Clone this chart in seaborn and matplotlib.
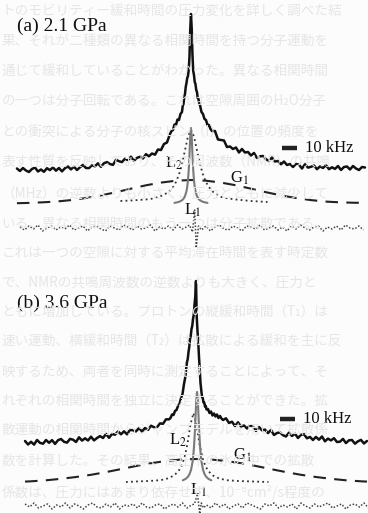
import numpy as np
import matplotlib
matplotlib.use("Agg")
import matplotlib.pyplot as plt
import seaborn as sns

sns.set_theme(style="white")
plt.rcParams["font.family"] = ["Liberation Serif", "DejaVu Serif"]
plt.rcParams["mathtext.fontset"] = "stix"

# ---------------- data (frequency in kHz, intensity in arb. units) ----------------
# panel (a) 2.1 GPa : observed spectrum
spec_a_f = np.concatenate([np.arange(-116, -13, 2), np.arange(-13, -5, 1),
                           np.arange(-5.5, 5.6, 0.5), np.arange(6, 14, 1),
                           np.arange(14, 117, 2)])
spec_a_left = [6.5, 4, 7, 4.5, 3, 6, 7.5, 3.5, 5.5, 3.2, 6.8, 4.9, 7.6, 4.3, 7, 3.6, 6.8, 8.5,
               5.6, 8.3, 5, 7.7, 10.1, 7, 6.9, 9.8, 8.7, 11.7, 8.2, 11.8, 12.9, 11, 10.1, 15.2,
               13.8, 12.9, 16.3, 14.8, 18.3, 14.2, 17.1, 18.2, 16.5, 20.8, 18.7, 21.5, 20.3,
               25.5, 25, 31, 32.5, 41]
spec_a_mid = [44, 45, 50.5, 50, 55.5, 55, 61, 63,
              69, 71, 78, 81, 88, 92, 97, 99, 105, 118, 145, 161, 146, 120, 104, 100, 93,
              91, 85, 83, 77, 76, 71,
              70, 63, 61, 56, 55, 50, 50, 46]
spec_a_right = [44, 44, 35.5, 35, 34.5, 28, 28.5, 26, 27.5, 22.5, 26, 22.5, 23, 19.5, 22, 17,
                18.7, 19, 15.8, 14, 17.5, 13.5, 14, 10.7, 13.5, 10, 11, 8, 11.1, 10.2, 6.5,
                10.7, 7.4, 8.2, 9.5, 5.8, 8.6, 7, 9.9, 5.8, 7.7, 6.1, 9, 5, 8, 8.5, 5.5, 9,
                6.5, 5, 8, 7.5]
spec_a = spec_a_left + spec_a_mid + spec_a_right

# panel (a) fitted components
l1_a_f = [-11, -8, -6, -5, -4, -3, -2.5, -2, -1.5, -1, -0.5, 0, 0.5, 1, 1.5, 2, 2.5, 3, 4, 5, 6, 8, 11]
l1_a = [1.1, 2.1, 3.7, 5.2, 7.8, 12.8, 17.2, 23.8, 34, 49, 67, 76, 67, 49, 34, 23.8, 17.2,
        12.8, 7.8, 5.2, 3.7, 2.1, 1.1]
l2_a_f = [-47, -40, -30, -25, -20, -15, -12, -10, -8, -6, -4, -2, 0, 2, 4, 6, 8, 10, 12, 15,
          20, 25, 30, 40, 51]
l2_a = [3, 3.5, 4.5, 5.5, 8, 11.7, 16.8, 22, 29.4, 40, 53.7, 67.6, 74, 67.6, 53.7, 40, 29.4,
        22, 16.8, 11.7, 7.1, 5.5, 4.5, 3, 2]
g1_a_f = [-116, -110, -100, -90, -80, -70, -60, -50, -40, -30, -20, -10, 0, 10, 20, 30, 40,
          50, 60, 70, 80, 90, 100, 110, 116]
g1_a = [0.8, 1, 1.6, 2.4, 3.9, 6.0, 8.6, 11.8, 15.3, 18.7, 21.4, 23.3, 24, 23.3, 21.4, 18.7,
        15.3, 11.8, 8.6, 6.0, 3.9, 2.4, 1.6, 1.2, 1.5]

# panel (a) residual
res_a_f = np.concatenate([np.arange(-114, -2, 3), [-1, 1, 2.5, 3.5, 5], np.arange(7, 117, 3)])
res_a = [1, -2, 2, -1, 3, -3, 0, 2, -2, 1, -1, 3, -2, 0, 2, -3, 1, 2, -1, -3,
         2, 0, -2, 3, 1, -2, 2, -1, 0, 3, -3, 1, -1, 2, -2, 3, -1, 1,
         3, -4, 18, -20, 2,
         -2, 2, -3, 1, 3, -1, -2, 2, 0, -3, 2, 1, -1, 3, -2, 0, 2, -2, 1, -3,
         2, -1, 3, 0, -2, 1, 2, -3, 1, -1, 2, -2, 3, 0, -1, 2, -2]

# panel (b) 3.6 GPa : observed spectrum
spec_b_f = np.concatenate([np.arange(-114, -17, 2), np.arange(-17, -6, 1),
                           np.arange(-6.5, 6.6, 0.5), np.arange(7, 18, 1),
                           np.arange(18, 115, 2)])
spec_b_left = [7, 3.5, 6.2, 3.4, 8, 5.1, 4.3, 8, 5.2, 7.9, 4.1, 7.8, 9, 6.2, 5.4, 9.1, 8.3, 6,
               10.7, 7.4, 9.7, 7.5, 11.3, 7.6, 10, 11.9, 10, 14.1, 10.2, 14, 13.3, 16.6, 13.7,
               16.7, 13.7, 18.2, 17.7, 16.6, 20, 16.5, 20, 18.1, 22.3, 20.7, 20.8, 24.6, 24.2,
               28.7, 28.6]
spec_b_mid = [30, 33.5, 33, 37, 38, 42, 44, 50, 54, 64, 72,
              80, 86, 89, 96, 101, 109, 112, 119, 122, 129, 133, 143, 151, 167, 131, 117, 106,
              91, 79, 65, 58, 51, 50, 45.5, 45.5, 41.5, 42,
              38.5, 39, 35, 36.5, 32.5, 34.5, 31.5, 33.5, 30, 32, 29.5]
spec_b_right = [28, 29.7, 25, 26.3, 22, 25.7, 21.5, 22.5, 19.5, 22.5, 21.3, 17.1, 21, 17.7,
                18.4, 14.9, 18.1, 13, 15, 15.6, 12.8, 11.5, 15.3, 12, 14.3, 10, 13.2, 13.8,
                9.7, 11.1, 8, 11.1, 8.3, 11.5, 6.7, 9.4, 7.6, 9.8, 6, 6.3, 9.1, 4.9, 7.7, 8,
                4.3, 6.7, 8.1, 4.5, 7]
spec_b = spec_b_left + spec_b_mid + spec_b_right

# panel (b) fitted components
l1_b_f = [-8.8, -6.8, -5.3, -4.3, -3.3, -2.3, -1.8, -1.3, -0.8, -0.3, 0.2, 0.7, 1.2, 1.7,
          2.2, 2.7, 3.2, 3.7, 4.7, 5.7, 6.7, 8.2, 10.2]
l1_b = [2.7, 4.2, 6.4, 8.9, 13.2, 21.1, 27.6, 36.9, 49.8, 66.6, 83.3, 91, 83.3, 66.6, 49.8,
        36.9, 27.6, 21.1, 13.2, 8.9, 6.4, 4.2, 2.7]
l2_b_f = [-46.7, -39.7, -31.7, -23.7, -18.7, -14.7, -11.7, -9.7, -7.7, -5.7, -3.7, -1.7,
          0.3, 2.3, 4.3, 6.3, 8.3, 11.3, 15.3, 20.3, 28.3, 38.3, 48.3]
l2_b = [1, 1.5, 2, 2.8, 4.6, 7.5, 11.8, 16.8, 25.2, 39.1, 58.4, 70, 58.4, 39.1, 25.2, 16.8,
        11.8, 7.5, 4.6, 2.8, 2, 1.5, 1]
g1_b_f = [-114, -110, -100, -90, -80, -70, -60, -50, -40, -30, -20, -10, 0, 10, 20, 30, 40,
          50, 60, 70, 80, 90, 100, 110, 114]
g1_b = [1.4, 1.7, 2.7, 4.2, 6.0, 8.2, 10.9, 13.9, 17.0, 19.8, 22.0, 23.5, 24, 23.5, 22, 19.8,
        17, 13.9, 10.9, 8.2, 6.0, 4.2, 2.7, 1.7, 1.4]

# panel (b) residual
res_b_f = res_a_f
res_b = [2, -1, 3, -2, 0, 2, -3, 1, -1, 3, -2, 2, 0, -3, 1, 3, -1, -2, 2, -1,
         3, -3, 1, 0, 2, -2, 3, -1, -2, 1, 2, -3, 0, 2, -1, 3, -2, 1,
         2, 12, -8, 3, -2,
         1, -2, 3, -1, 2, -3, 0, 2, -2, 3, 1, -1, -3, 2, 0, 3, -2, 1, -1, 2,
         -3, 3, 0, -2, 2, -1, 1, 3, -2, 0, 2, -3, 1, 2, -1, 3, -2]

scale_khz = 10
titles = ["(a) 2.1 GPa", "(b) 3.6 GPa"]

# faint print-through text of the page
bg_lines = [
    "トのモビリティー緩和時間の圧力変化を詳しく調べた結",
    "果、それが二種類の異なる相関時間を持つ分子運動を",
    "通じて緩和していることがわかった。異なる相関時間",
    "の一つは分子回転である。これは空隙周囲のH₂O分子",
    "との衝突による分子の核スピン（I）の位置の頻度を",
    "表す性質を反映しており、その周波数（NMR）の共鳴",
    "（MHz）の逆数よりも小さく、圧力とともに減少して",
    "いる。異なる相関時間のもう一つは分子拡散である。",
    "これは一つの空隙に対する平均滞在時間を表す時定数",
    "で、NMRの共鳴周波数の逆数よりも大きく、圧力と",
    "ともに増加している。プロトンの縦緩和時間（T₁）は",
    "速い運動、横緩和時間（T₂）は拡散による緩和を主に反",
    "映するため、両者を同時に測定することによって、そ",
    "れぞれの相関時間を独立に決定することができた。拡",
    "散運動の相関時間からジャンプモデルを用いて拡散係",
    "数を計算した。その結果、高圧下の氷の中での拡散",
    "係数は、圧力にはあまり依存せず、10⁻⁸cm²/s程度の",
]

# ---------------- figure ----------------
W, H = 368, 513
fig = plt.figure(figsize=(W / 100, H / 100), dpi=100)
fig.patch.set_facecolor("#fcfcfc")

bg_y = [12, 42, 72, 101, 133, 163, 195, 224, 253, 283, 313, 342, 372, 401, 431, 462, 493]
for yy, line in zip(bg_y, bg_lines):
    fig.text(0.004, 1 - yy / H, line, fontsize=9.8, color="#e6e6e6", va="center", ha="left",
             family=["Noto Sans CJK JP", "DejaVu Sans"], zorder=0)

panels = [
    dict(rect=[0, 0.5, 1, 0.5], xlim=(-127.3, 118.0), ylim=(-81.5, 175.0),
         sf=spec_a_f, s=spec_a, l1f=l1_a_f, l1=l1_a, l2f=l2_a_f, l2=l2_a, gf=g1_a_f, g=g1_a,
         rf=res_a_f, r=res_a, comp_off=-29, res_off=-53, bar=(60.7, 27), title=(-116, 149),
         L2=(-17.5, 12), G1=(26, -3), L1=(-4.5, -35)),
    dict(rect=[0, 0.0, 1, 0.5], xlim=(-130.7, 114.7), ylim=(-65.0, 191.5),
         sf=spec_b_f, s=spec_b, l1f=l1_b_f, l1=l1_b, l2f=l2_b_f, l2=l2_b, gf=g1_b_f, g=g1_b,
         rf=res_b_f, r=res_b, comp_off=-35, res_off=-58, bar=(56.0, 29), title=(-119.3, 145),
         L2=(-18.0, 8), G1=(24.7, -7), L1=(-4.0, -42)),
]

for p, title in zip(panels, titles):
    ax = fig.add_axes(p["rect"])
    ax.patch.set_alpha(0)
    co, ro = p["comp_off"], p["res_off"]
    sns.lineplot(x=np.asarray(p["gf"]), y=np.asarray(p["g"]) + co, ax=ax, color="#222222",
                 lw=1.5, linestyle=(0, (6, 4)), sort=False)
    sns.lineplot(x=np.asarray(p["l2f"]), y=np.asarray(p["l2"]) + co, ax=ax, color="#333333",
                 lw=1.3, linestyle=(0, (1, 1.8)), sort=False)
    sns.lineplot(x=np.asarray(p["l1f"]), y=np.asarray(p["l1"]) + co, ax=ax, color="#7a7a7a",
                 lw=1.5, sort=False)
    sns.lineplot(x=np.asarray(p["sf"]), y=np.asarray(p["s"]), ax=ax, color="#111111",
                 lw=1.8, sort=False)
    sns.lineplot(x=np.asarray(p["rf"]), y=np.asarray(p["r"]) + ro, ax=ax, color="#444444",
                 lw=1.1, linestyle=(0, (1, 1.2)), sort=False)
    bx, by = p["bar"]
    sns.lineplot(x=[bx, bx + scale_khz], y=[by, by], ax=ax, color="#222222", lw=3.2,
                 solid_capstyle="butt", sort=False)
    ax.text(bx + scale_khz + 5.5, by, "10 kHz", fontsize=12, va="center", ha="left",
            color="#111111")
    ax.text(*p["title"], title, fontsize=14, va="center", ha="left", color="#111111")
    ax.text(*p["L2"], "L$_{2}$", fontsize=12, va="center", ha="left", color="#111111")
    ax.text(*p["G1"], "G$_{1}$", fontsize=12, va="center", ha="left", color="#111111")
    ax.text(*p["L1"], "L$_{1}$", fontsize=12, va="center", ha="left", color="#111111")
    ax.set_xlim(*p["xlim"])
    ax.set_ylim(*p["ylim"])
    ax.set_axis_off()

fig.savefig("out.png", dpi=100, facecolor=fig.get_facecolor())
